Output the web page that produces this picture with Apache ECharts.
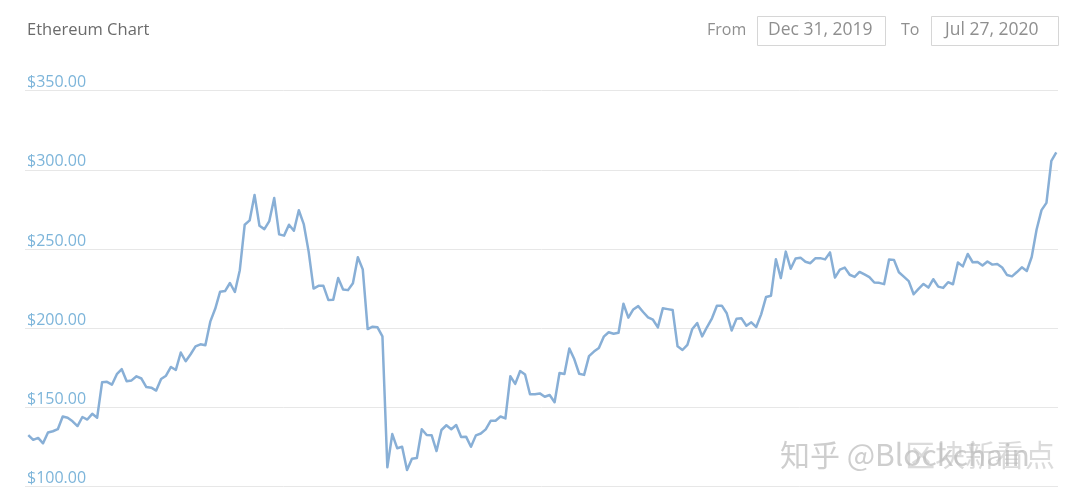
<!DOCTYPE html>
<html>
<head>
<meta charset="utf-8">
<script src="https://cdn.jsdelivr.net/npm/echarts@6/dist/echarts.min.js"></script>
<style>
html,body{margin:0;padding:0;background:#fff;}
#chart{width:1080px;height:502px;}
</style>
</head>
<body>
<div id="chart"></div>
<script>
// ---- data ----
const title = 'Ethereum Chart';
const fromLabel = 'Dec 31, 2019';
const toLabel = 'Jul 27, 2020';
const startDate = '2019-12-31';
const yTicks = [100, 150, 200, 250, 300, 350];
const prices = [
  132.6, 129.6, 130.8, 127.4, 134.2, 135.0, 136.3, 144.3, 143.5, 141.3,
  138.3, 144.0, 142.4, 146.0, 143.6, 165.9, 166.2, 164.4, 171.0, 174.2,
  166.6, 167.1, 169.7, 168.3, 162.9, 162.5, 160.7, 168.0, 170.1, 175.6,
  173.7, 184.7, 179.2, 183.6, 188.6, 189.9, 189.3, 204.2, 212.3, 223.1,
  223.5, 228.6, 222.9, 236.7, 265.4, 268.1, 284.2, 264.7, 262.6, 267.7,
  282.2, 259.3, 258.5, 265.4, 261.6, 274.5, 265.8, 248.4, 225.1, 226.8,
  226.8, 217.9, 218.1, 231.7, 224.5, 224.1, 228.5, 244.9, 237.2, 199.5,
  201.0, 200.6, 194.9, 112.3, 133.2, 124.3, 125.2, 110.6, 117.7, 118.1,
  136.3, 132.6, 132.5, 122.5, 135.8, 138.8, 136.3, 138.9, 131.4, 131.6,
  125.2, 132.4, 133.6, 136.2, 141.6, 141.6, 144.3, 143.1, 169.7, 164.9,
  173.0, 170.8, 158.4, 158.4, 158.9, 156.8, 157.9, 153.3, 171.8, 171.1,
  187.3, 180.6, 171.3, 170.6, 182.4, 185.3, 187.5, 194.7, 197.5, 196.6,
  197.2, 215.5, 206.7, 211.9, 214.0, 210.3, 206.9, 205.4, 200.6, 212.6,
  212.1, 211.6, 188.6, 186.3, 189.6, 199.6, 203.3, 194.9, 200.8, 206.3,
  214.2, 214.3, 209.5, 198.6, 206.1, 206.3, 201.6, 203.8, 200.8, 208.8,
  219.8, 220.6, 243.6, 231.7, 248.4, 237.6, 244.1, 244.6, 242.0, 241.1,
  244.2, 244.3, 243.5, 247.9, 232.0, 237.0, 238.3, 233.8, 232.4, 235.6,
  234.0, 232.3, 228.9, 228.7, 227.9, 243.5, 243.2, 235.4, 232.6, 229.8,
  221.5, 224.9, 228.0, 225.7, 231.0, 226.3, 225.5, 229.1, 227.8, 241.5,
  239.1, 246.9, 241.7, 241.9, 239.6, 242.2, 240.2, 240.6, 238.4, 233.6,
  232.8, 235.5, 238.5, 236.2, 245.0, 262.4, 274.6, 279.2, 305.7, 311.0
];

// ---- build ----
const DAY = 86400000;
const t0 = Date.parse(startDate + 'T00:00:00Z');
const seriesData = prices.map((v, i) => [t0 + i * DAY, v]);
const tLast = t0 + (prices.length - 1) * DAY;

const chart = echarts.init(document.getElementById('chart'), null, {renderer: 'canvas'});
const FONT = '"Open Sans", "Liberation Sans", sans-serif';
chart.setOption({
  animation: false,
  backgroundColor: '#ffffff',
  grid: {left: 25, right: 22, top: 90.7, bottom: 15.3, containLabel: false},
  xAxis: {
    type: 'time',
    min: t0 - 0.67 * DAY,
    max: tLast + 0.35 * DAY,
    axisLine: {show: false},
    axisTick: {show: false},
    axisLabel: {show: false},
    splitLine: {show: false}
  },
  yAxis: {
    type: 'value',
    min: yTicks[0],
    max: yTicks[yTicks.length - 1],
    interval: 50,
    axisLine: {show: false},
    axisTick: {show: false},
    splitLine: {lineStyle: {color: '#e7e7e7', width: 1}},
    axisLabel: {
      inside: true,
      margin: 2,
      align: 'left',
      verticalAlign: 'bottom',
      padding: [0, 0, 0, 0],
      color: '#7db5da',
      fontFamily: FONT,
      fontSize: 16,
      formatter: v => '$' + v.toFixed(2)
    }
  },
  series: [{
    type: 'line',
    data: seriesData,
    showSymbol: false,
    symbol: 'none',
    lineStyle: {color: '#88afd6', width: 2.5, join: 'round'},
    z: 3
  }],
  graphic: [
    {type: 'text', left: 27, top: 22, style: {text: title, fill: '#6b6b6b', font: '16.5px ' + FONT}},
    {type: 'text', left: 707, top: 22, style: {text: 'From', fill: '#8f8f8f', font: '16px ' + FONT}},
    {type: 'rect', shape: {x: 757.5, y: 16.5, width: 128, height: 29}, style: {fill: '#fff', stroke: '#d6d6d6', lineWidth: 1}},
    {type: 'text', left: 768, top: 21, style: {text: fromLabel, fill: '#8f8f8f', font: '17.5px ' + FONT}},
    {type: 'text', left: 901, top: 22, style: {text: 'To', fill: '#8f8f8f', font: '16px ' + FONT}},
    {type: 'rect', shape: {x: 931.5, y: 16.5, width: 127, height: 29}, style: {fill: '#fff', stroke: '#d6d6d6', lineWidth: 1}},
    {type: 'text', left: 945, top: 21, style: {text: toLabel, fill: '#8f8f8f', font: '17.5px ' + FONT}},
    {type: 'text', left: 780, top: 440, z: 10, style: {text: '知乎 @Blockchain', fill: 'rgba(190,190,190,0.75)', font: '30px "Noto Sans CJK SC", sans-serif', textShadowColor: 'rgba(255,255,255,0.9)', textShadowOffsetX: 1, textShadowOffsetY: 1, textShadowBlur: 0}},
    {type: 'text', left: 905, top: 440, z: 10, style: {text: '区块新看点', fill: 'rgba(190,190,190,0.55)', font: '30px "Noto Sans CJK SC", sans-serif'}}
  ]
});
</script>
</body>
</html>
